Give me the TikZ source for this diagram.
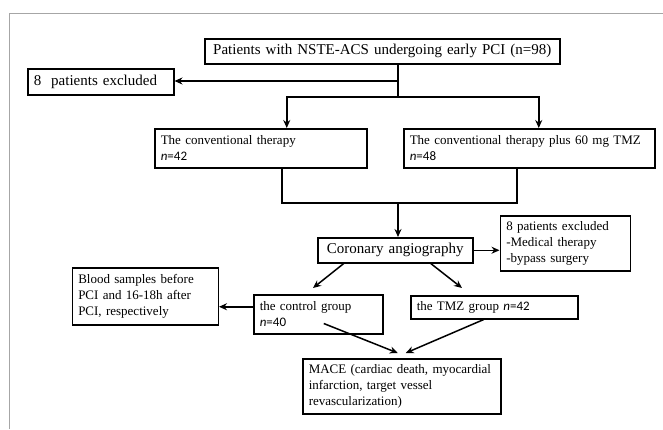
\documentclass[tikz,border=0pt]{standalone}
\usepackage{fontspec}
\setmainfont{Liberation Serif}
\setsansfont{Carlito}
\usepackage{tikz}
\usetikzlibrary{arrows.meta, positioning, calc}

\begin{document}
\begin{tikzpicture}[
    x=1pt, y=-1pt,
    box/.style={rectangle, draw=black, line width=1.5pt, inner xsep=6pt, inner ysep=2pt, align=left, anchor=north west, font=\fontsize{13}{16}\selectfont},
    bigbox/.style={box, align=center, font=\fontsize{15}{18}\selectfont},
    link/.style={line width=1.5pt},
    arrow/.style={line width=1.5pt, ->, >={Stealth[length=8pt, width=7pt]}}
]
\useasboundingbox (0,0) rectangle (663,429);
\draw[gray!70, line width=0.8pt] (9,429) -- (9,13) -- (663,13);

% Nodes
\node[bigbox, text width=343pt, minimum height=25pt] (top) at (204,38) {Patients with NSTE-ACS undergoing early PCI (n=98)};
\node[box, font=\fontsize{15}{18}\selectfont, text width=134pt, minimum height=26pt] (excl1) at (27,68) {8~ patients excluded};
\node[box, text width=200pt, minimum height=39pt] (ther1) at (154,128) {The conventional therapy\\ \textsf{\textit{n}=42}};
\node[box, text width=239pt, minimum height=39pt] (ther2) at (403,128) {The conventional therapy plus 60 mg TMZ\\ \textsf{\textit{n}=48}};
\node[bigbox, text width=143pt, minimum height=25pt] (coro) at (317,237) {Coronary angiography};
\node[box, anchor=west, text width=118pt, minimum height=55pt, right=26pt of coro, yshift=7pt] (excl2) {8 patients excluded\\-Medical therapy\\-bypass surgery};
\node[box, text width=117pt, minimum height=39pt] (ctrl) at (253,294) {the control group\\ \textsf{\textit{n}=40}};
\node[box, anchor=east, text width=134pt, minimum height=57pt, left=34pt of ctrl, yshift=18pt] (blood) {Blood samples before\\PCI and 16-18h after\\PCI, respectively};
\node[box, text width=155pt, minimum height=23pt] (tmz) at (410,295) {the TMZ group \textsf{\textit{n}=42}};
\node[box, text width=186pt, minimum height=55pt] (mace) at (302,358) {MACE (cardiac death, myocardial\\infarction, target vessel\\revascularization)};

\coordinate (split) at (398,81);
\coordinate (fork) at (398,97);
\coordinate (join) at (398,203);
\coordinate (toctrl) at (313,288);
\coordinate (totmz) at (462,288);

% Edges
\draw[link] (top.south -| fork) -- (fork);
\draw[arrow] (split) -- (split -| excl1.east);
\draw[arrow] (fork) -| ([xshift=26pt]ther1.north);
\draw[arrow] (fork) -| ([xshift=9.5pt]ther2.north);
\draw[link] ([xshift=21pt]ther1.south) |- ([xshift=-12.5pt]ther2.south |- join) -- ([xshift=-12.5pt]ther2.south);
\draw[arrow] (join) -- (join |- coro.north);
\draw[arrow] (coro.east) -- (coro.east -| excl2.west);
\draw[arrow] ([xshift=-51.5pt]coro.south) -- (toctrl);
\draw[arrow] ([xshift=35.5pt]coro.south) -- (totmz);
\draw[arrow] ([yshift=7.5pt]ctrl.west) -- ([yshift=7.5pt]ctrl.west -| blood.east);
\draw[arrow] ([xshift=5.5pt, yshift=11pt]ctrl.south) -- ([xshift=-4pt, yshift=5pt]mace.north);
\draw[arrow] ([xshift=-10.5pt]tmz.south) -- ([xshift=4pt, yshift=5pt]mace.north);

\end{tikzpicture}
\end{document}
